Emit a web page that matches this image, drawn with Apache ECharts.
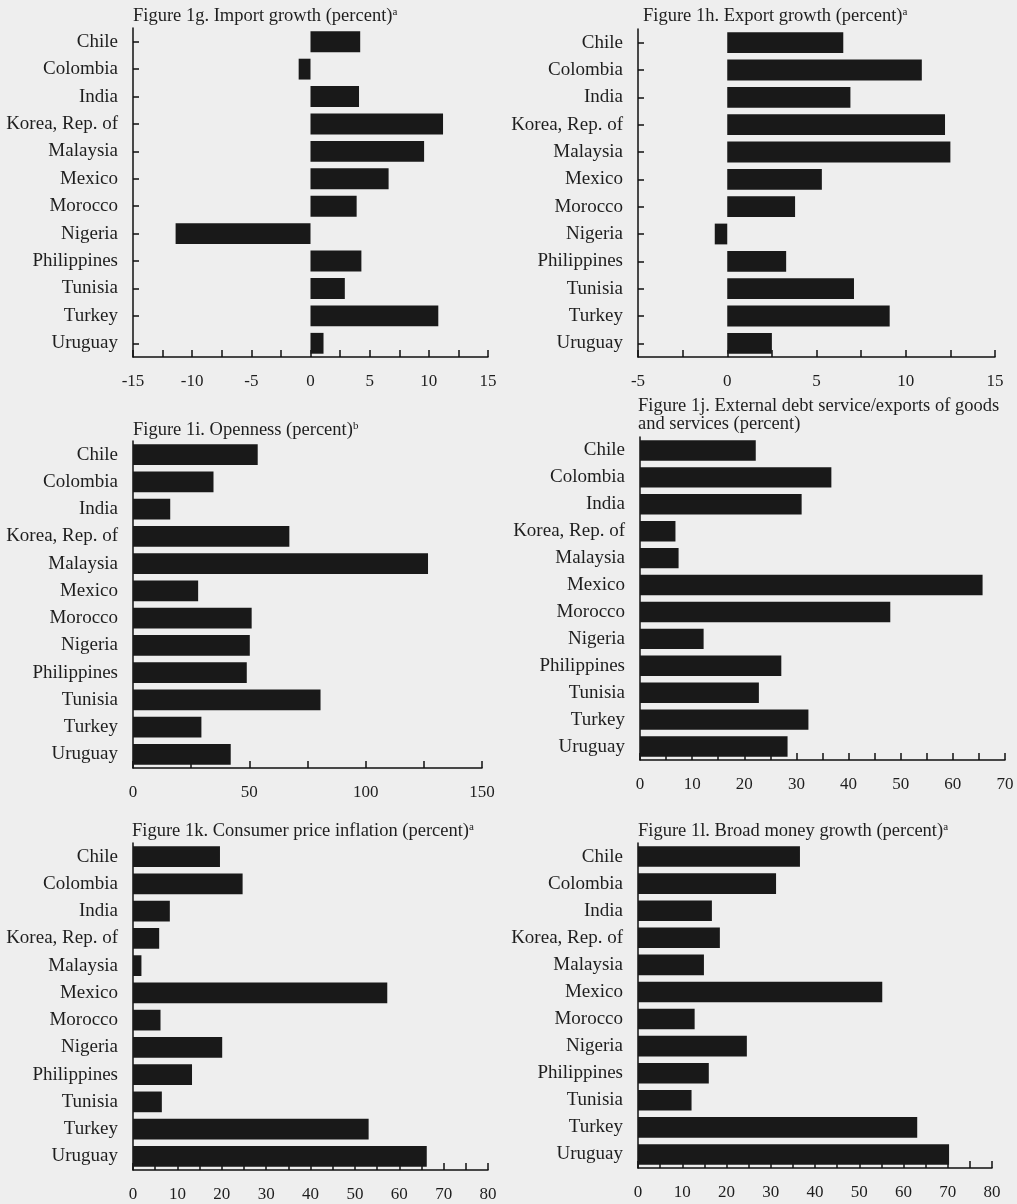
<!DOCTYPE html>
<html><head><meta charset="utf-8">
<script src="https://cdn.jsdelivr.net/npm/echarts@6/dist/echarts.min.js"></script>
<style>html,body{margin:0;padding:0;background:#eeeeee;}#c{width:1017px;height:1204px;}</style>
</head><body><div id="c"></div>
<script>
const countries = ['Chile','Colombia','India','Korea, Rep. of','Malaysia','Mexico','Morocco','Nigeria','Philippines','Tunisia','Turkey','Uruguay'];
const importGrowth = [4.2, -1.0, 4.1, 11.2, 9.6, 6.6, 3.9, -11.4, 4.3, 2.9, 10.8, 1.1];
const exportGrowth = [6.5, 10.9, 6.9, 12.2, 12.5, 5.3, 3.8, -0.7, 3.3, 7.1, 9.1, 2.5];
const openness = [53.6, 34.6, 16.0, 67.2, 126.8, 28.0, 51.0, 50.2, 48.9, 80.6, 29.4, 42.0];
const debtService = [22.2, 36.7, 31.0, 6.8, 7.4, 65.7, 48.0, 12.2, 27.1, 22.8, 32.3, 28.3];
const inflation = [19.6, 24.7, 8.3, 5.9, 1.9, 57.3, 6.2, 20.1, 13.3, 6.5, 53.1, 66.2];
const moneyGrowth = [36.6, 31.2, 16.7, 18.5, 14.9, 55.2, 12.8, 24.6, 16.0, 12.1, 63.1, 70.3];

const panels = [
  {title:'Figure 1g. Import growth (percent)', sup:'a', data:importGrowth, min:-15, max:15, step:2.5, lab:5, grid:{left:133, top:28, width:355, height:329}, tx:133, ty:7, yTicks:true},
  {title:'Figure 1h. Export growth (percent)', sup:'a', data:exportGrowth, min:-5, max:15, step:2.5, lab:5, grid:{left:638, top:29, width:357, height:328}, tx:643, ty:7, yTicks:true},
  {title:'Figure 1i. Openness (percent)', sup:'b', data:openness, min:0, max:150, step:25, lab:50, grid:{left:133, top:441, width:349, height:327}, tx:133, ty:421, yTicks:false},
  {title:'Figure 1j. External debt service/exports of goods\nand services (percent)', sup:'', data:debtService, min:0, max:70, step:5, lab:10, grid:{left:640, top:437, width:365, height:323}, tx:638, ty:397, yTicks:false},
  {title:'Figure 1k. Consumer price inflation (percent)', sup:'a', data:inflation, min:0, max:80, step:5, lab:10, grid:{left:133, top:843, width:355, height:327}, tx:132, ty:822, yTicks:false},
  {title:'Figure 1l. Broad money growth (percent)', sup:'a', data:moneyGrowth, min:0, max:80, step:5, lab:10, grid:{left:638, top:843, width:354, height:325}, tx:638, ty:822, yTicks:false}
];

const FONT = 'Liberation Serif';
const TXT = '#1e1e1e';
const option = {
  backgroundColor:'#eeeeee',
  animation:false,
  title: panels.map(p => ({
    text: p.sup ? p.title + '{s|' + p.sup + '}' : p.title,
    left:p.tx, top:p.ty, padding:0,
    textStyle:{fontFamily:FONT, fontSize:18.5, fontWeight:'normal', color:TXT, lineHeight:18,
      rich:{s:{fontFamily:FONT, fontSize:11, color:TXT, verticalAlign:'top', padding:[0,0,8,0]}}}
  })),
  grid: panels.map(p => Object.assign({containLabel:false}, p.grid)),
  xAxis: panels.map((p,i) => ({
    type:'value', gridIndex:i, min:p.min, max:p.max, interval:p.step,
    axisLine:{show:true, lineStyle:{color:'#111', width:1.5}},
    axisTick:{show:true, inside:true, length:7, lineStyle:{color:'#111', width:1.5}},
    splitLine:{show:false},
    axisLabel:{fontFamily:FONT, fontSize:17, color:TXT, margin:16, showMinLabel:true, showMaxLabel:true,
      formatter: v => (Math.abs(v % p.lab) < 1e-9 ? String(v) : '')}
  })),
  yAxis: panels.map((p,i) => ({
    type:'category', gridIndex:i, data:countries, inverse:true,
    axisLine:{show:true, onZero:false, lineStyle:{color:'#111', width:1.5}},
    axisTick:{show:p.yTicks, inside:true, length:6, alignWithLabel:true, lineStyle:{color:'#111', width:1.5}},
    axisLabel:{fontFamily:FONT, fontSize:19, color:TXT, margin:15}
  })),
  series: panels.map((p,i) => ({
    type:'bar', xAxisIndex:i, yAxisIndex:i, data:p.data, barWidth:'76%',
    itemStyle:{color:'#191919'}
  }))
};
echarts.init(document.getElementById('c')).setOption(option);
</script>
</body></html>
